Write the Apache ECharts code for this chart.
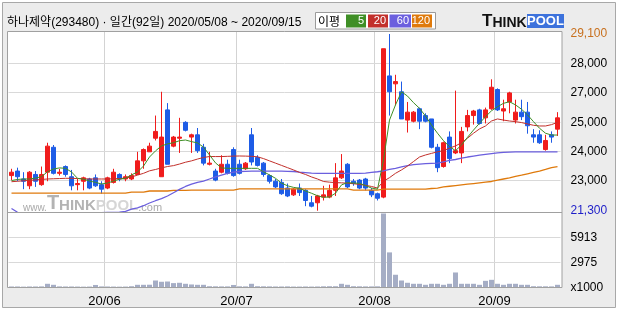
<!DOCTYPE html>
<html><head><meta charset="utf-8">
<script src="https://cdn.jsdelivr.net/npm/echarts@6/dist/echarts.min.js"></script>
<style>html,body{margin:0;padding:0;background:#fff}#c{width:620px;height:310px}</style>
</head><body><div id="c"></div>
<script>
const titleText = '하나제약(293480) · 일간(92일) 2020/05/08 ~ 2020/09/15';
const maLegendTitle = '이평';
const maLabels = ['5', '20', '60', '120'];

const dates = [
'2020/05/08','2020/05/11','2020/05/12','2020/05/13','2020/05/14','2020/05/15','2020/05/18','2020/05/19','2020/05/20','2020/05/21','2020/05/22','2020/05/25','2020/05/26','2020/05/27','2020/05/28','2020/05/29',
'2020/06/01','2020/06/02','2020/06/03','2020/06/04','2020/06/05','2020/06/08','2020/06/09','2020/06/10','2020/06/11','2020/06/12','2020/06/15','2020/06/16','2020/06/17','2020/06/18','2020/06/19','2020/06/22','2020/06/23','2020/06/24','2020/06/25','2020/06/26','2020/06/29','2020/06/30',
'2020/07/01','2020/07/02','2020/07/03','2020/07/06','2020/07/07','2020/07/08','2020/07/09','2020/07/10','2020/07/13','2020/07/14','2020/07/15','2020/07/16','2020/07/17','2020/07/20','2020/07/21','2020/07/22','2020/07/23','2020/07/24','2020/07/27','2020/07/28','2020/07/29','2020/07/30','2020/07/31',
'2020/08/03','2020/08/04','2020/08/05','2020/08/06','2020/08/07','2020/08/10','2020/08/11','2020/08/12','2020/08/13','2020/08/14','2020/08/18','2020/08/19','2020/08/20','2020/08/21','2020/08/24','2020/08/25','2020/08/26','2020/08/27','2020/08/28','2020/08/31',
'2020/09/01','2020/09/02','2020/09/03','2020/09/04','2020/09/07','2020/09/08','2020/09/09','2020/09/10','2020/09/11','2020/09/14','2020/09/15'];

const opens = [22850,23050,22700,22400,22900,22450,23000,24100,22950,23250, 22800,22450,22600,22700,22750,22450,22300,22550,22900,22700, 22700,22900,23500,23900,24500,22800,25750,24150,24500,25200, 24550,24650,24100,23350,23050,23000,23350,24000,23350,23150, 24650,23650,23400,22850,22600,22550,22300,22000,22300,22200, 21650,21650,21900,21900,22200,22750,23350,22600,22650,22700, 22200,22050,21900,27250,26900,26550,25300,25250,25800,25500, 25350,24100,23250,24550,23850,23850,25000,25500,25750,25400, 25800,26650,25700,26100,25300,25650,25650,24650,24650,24000, 24650,24900];
const closes = [23000,22800,22600,23000,22600,22900,24150,22950,23000,22900, 22400,22500,22750,22300,22400,22250,22750,23000,22700,22800, 22850,23500,24000,24150,24800,24550,23350,24550,24550,24850, 24650,23950,23400,23400,22650,23350,22950,22850,22950,23400, 23450,23300,22900,22600,22350,22050,21950,22250,22100,21750, 21500,21950,22000,22200,22750,23050,22350,22500,22300,22300, 22000,21850,28450,26550,27000,25350,25650,25650,25250,25250, 24100,23200,24300,23600,23950,24800,25500,25700,25150,25750, 26750,25750,25800,26500,25650,25450,25050,24550,24300,24400, 24550,25400];
const lows = [22650,22600,22250,22250,22350,22400,22600,22900,22850,22800, 22200,22200,22200,22250,22350,22050,22250,22500,22600,22600, 22650,22900,23150,23900,24400,22800,23350,24100,23850,24800, 23850,23850,23300,23300,22600,22950,22900,22800,22900,23100, 23300,23250,22800,22500,22300,22000,21900,21950,21950,21500, 21450,21300,21750,21850,21950,22700,22300,22400,22250,22200, 21900,21750,21850,25500,25950,25350,24750,25200,24900,25200, 24050,23000,23200,23400,23800,23400,24800,25100,25100,25150, 25750,25700,25250,25600,25150,25300,24700,24300,24250,23950, 24300,24600];
const highs = [23150,23200,23000,23050,23050,23250,24300,24200,23150,23300, 23100,22700,22800,22750,22900,22600,22800,23150,22950,22900, 22950,23900,24050,24300,25500,26550,26050,24600,25400,25250, 24700,24950,24250,23900,23150,23750,23550,24100,23550,23450, 24950,23750,23450,22900,22700,22700,22500,22300,22500,22250, 21950,22000,22400,22450,23400,23800,23400,22700,22700,22750, 22300,22100,28450,29100,27300,27000,26100,25700,25850,25600, 25350,24250,24350,24800,26600,25000,25750,25750,25800,25850, 27100,26700,26200,26550,26200,26200,26100,24900,24850,24650, 24800,25650];

const ma5 = [22630,22680,22700,22700,22740,22800,23020,23140,23190,23170, 23010,22730,22690,22610,22550,22480,22520,22610,22690,22730, 22880,23010,23270,23670,23940,24160,24250,24300,24390,24420, 24350,24290,24110,23760,23410,23190,23170,23170,23170,23170, 23170,23170,23020,22880,22730,22520,22400,22330,22290,22170, 22070,21960,21890,21910,22070,22440,22540,22520,22510,22410, 22300,22250,23540,25300,25970,26550,26360,26070,25820,25480, 25080,24720,24390,24130,23950,24200,24540,24860,25160,25450, 25710,25890,26040,26110,25970,25780,25530,25230,24940,24720, 24640,24640];
const ma20 = [22580,22600,22620,22640,22660,22680,22700,22710,22720,22730, 22730,22720,22710,22700,22700,22700,22700,22710,22720,22740, 22790,22870,22950,23060,23120,23190,23250,23290,23360,23440, 23500,23580,23650,23690,23690,23690,23700,23710,23715,23710, 23700,23680,23600,23500,23400,23300,23200,23100,22990,22900, 22790,22700,22590,22560,22540,22530,22515,22490,22460,22420, 22370,22300,22600,22760,22950,23100,23270,23470,23670,23760, 23830,23900,23950,24060,24160,24300,24500,24720,24910,25040, 25260,25350,25300,25260,25230,25190,25130,25070,25040,25040, 25100,25200];
const ma60 = [21400,21230,21200,21180,21160,21150,21150,21150,21160,21170, 21180,21190,21200,21200,21200,21210,21220,21230,21240,21270, 21370,21430,21520,21640,21740,21830,21950,22095,22240,22370, 22470,22550,22610,22700,22790,22870,22950,23000,23030,23040, 23050,23050,23050,23050,23050,23050,23040,23030,23000,22980, 22960,22950,22950,22950,22950,22950,22950,22950,22950,22960, 22990,23020,23060,23120,23170,23230,23290,23330,23360,23375, 23390,23400,23460,23520,23560,23620,23670,23710,23750,23790, 23820,23850,23875,23890,23900,23900,23900,23900,23900,23900, 23900,23900];
const ma120 = [22080,22080,22080,22080,22080,22080,22080,22080,22080,22080, 22080,22080,22080,22080,22080,22080,22080,22080,22080,22080, 22120,22120,22120,22170,22170,22170,22170,22200,22200,22200, 22210,22210,22210,22210,22210,22210,22210,22210,22260,22260, 22260,22260,22260,22260,22260,22260,22260,22260,22260,22260, 22260,22260,22260,22260,22260,22260,22260,22210,22210,22210, 22210,22210,22250,22250,22250,22250,22250,22250,22250,22250, 22280,22300,22350,22380,22410,22440,22470,22500,22530,22560, 22590,22650,22700,22750,22820,22870,22930,22990,23050,23120, 23200,23250];

const volumes = [120,120,100,120,120,130,440,320,130,120, 120,110,100,110,300,130,120,110,100,110, 150,320,320,330,830,680,710,520,560,440, 360,320,320,150,140,130,130,300,140,130, 440,150,140,130,120,120,130,110,110,120, 110,120,140,150,150,440,320,150,140,130, 130,140,8770,4160,1510,830,560,440,440,320, 440,440,320,440,1780,440,440,440,320,790, 910,440,320,440,440,320,320,150,140,140, 130,320];

const priceTicks = [27800, 26520, 25195, 23915, 22635];
const priceTickLabels = ['28,000', '27,000', '25,000', '24,000', '23,000'];
const priceHigh = 29100;
const priceLow = 21300;
const volTicks = [2975, 5913];
const volTickLabels = ['2975', '5913'];
const volUnitLabel = 'x1000';
const monthStarts = ['2020/06/01', '2020/07/01', '2020/08/03', '2020/09/01'];
const monthLabels = ['20/06', '20/07', '20/08', '20/09'];

const FONT = '"Liberation Sans", "Noto Sans CJK KR", sans-serif';
const C_UP = '#f01c1c', C_DOWN = '#1e5ce6';
const maColors = ['#3f8f26', '#c2302b', '#6b5fde', '#df7a0c'];
const fmt = v => v.toLocaleString('en-US');
const HIDDEN_LINE = {color: 'rgba(255,255,255,0)', width: 1, type: 'solid'};

const candleData = dates.map((d, i) => [opens[i], closes[i], lows[i], highs[i]]);

const chart = echarts.init(document.getElementById('c'), null, {renderer: 'canvas', width: 620, height: 310});

const splitV = {show: true, showMaxLine: false, interval: (i, v) => monthStarts.includes(v), lineStyle: {color: '#d3d3d3', width: 1}};

const legendBoxes = [{x: 346, w: 20}, {x: 368, w: 20}, {x: 389.5, w: 21.5}, {x: 412, w: 20}];
const graphics = [
  {type: 'rect', z: -10, silent: true, shape: {x: 2.5, y: 2.5, width: 613, height: 305}, style: {fill: '#ececec', stroke: '#a8a8a8', lineWidth: 1}},
  {type: 'rect', z: -9, silent: true, shape: {x: 7.5, y: 31.5, width: 554.5, height: 256}, style: {fill: '#ffffff'}},
  {type: 'text', z: 1, silent: true, x: 23, y: 203, style: {
    text: '{w|www.}{t|T}{k|HINK}{p|POOL}{c|.com}', verticalAlign: 'middle',
    rich: {
      w: {font: '10px "Liberation Sans"', fill: '#a9a9a9', verticalAlign: 'bottom'},
      t: {font: 'bold 20px "Liberation Sans"', fill: '#b3b3b3', verticalAlign: 'bottom'},
      k: {font: 'bold 15px "Liberation Sans"', fill: '#b3b3b3', verticalAlign: 'bottom'},
      p: {font: 'bold 15px "Liberation Sans"', fill: '#d6d6d6', verticalAlign: 'bottom'},
      c: {font: '11px "Liberation Sans"', fill: '#a9a9a9', verticalAlign: 'bottom'}
    }}},
  {type: 'rect', z: 20, silent: true, shape: {x: 7.5, y: 31.5, width: 554.5, height: 256}, style: {fill: 'none', stroke: '#a0a0a0', lineWidth: 1}},
  {type: 'line', z: 20, silent: true, shape: {x1: 7.5, y1: 212.5, x2: 562, y2: 212.5}, style: {stroke: '#a0a0a0', lineWidth: 1}},
  {type: 'text', z: 20, silent: true, x: 7, y: 22.5, style: {text: titleText, font: '12px ' + FONT, fill: '#000', verticalAlign: 'middle'}},
  {type: 'rect', z: 20, silent: true, shape: {x: 315.5, y: 12.5, width: 120, height: 16.5}, style: {fill: '#ffffff', stroke: '#9a9a9a', lineWidth: 1}},
  {type: 'text', z: 21, silent: true, x: 318, y: 21, style: {text: maLegendTitle, font: '12px "Noto Sans CJK KR"', fill: '#000', verticalAlign: 'middle'}},
  {type: 'text', z: 21, silent: true, x: 482, y: 21.5, style: {
    text: '{t|T}{h|HINK}', verticalAlign: 'middle',
    rich: {t: {font: 'bold 17px "Liberation Sans"', fill: '#111', verticalAlign: 'bottom'}, h: {font: 'bold 14px "Liberation Sans"', fill: '#111', verticalAlign: 'bottom'}}}},
  {type: 'rect', z: 21, silent: true, shape: {x: 527, y: 14, width: 37, height: 14}, style: {fill: '#3d72dc'}},
  {type: 'text', z: 22, silent: true, x: 545.5, y: 21.3, style: {text: 'POOL', font: 'bold 13px "Liberation Sans"', fill: '#fff', align: 'center', verticalAlign: 'middle'}}
];
legendBoxes.forEach((b, i) => {
  graphics.push({type: 'rect', z: 21, silent: true, shape: {x: b.x, y: 14.5, width: b.w, height: 13}, style: {fill: maColors[i]}});
  graphics.push({type: 'text', z: 22, silent: true, x: b.x + b.w - 2, y: 21.3, style: {text: maLabels[i], font: '11px "Liberation Sans"', fill: '#fff', align: 'right', verticalAlign: 'middle'}});
});

const priceMarks = priceTicks.map((v, i) => ({yAxis: v, label: {formatter: priceTickLabels[i]}}));
priceMarks.push({yAxis: priceHigh, lineStyle: HIDDEN_LINE, label: {show: true, formatter: fmt(priceHigh), color: '#c8701e', padding: [7, 0, 0, 0]}});
priceMarks.push({yAxis: priceLow, lineStyle: HIDDEN_LINE, label: {show: true, formatter: fmt(priceLow), color: '#1e1ec8', padding: [0, 0, 6, 0]}});

const volMarks = volTicks.map((v, i) => ({yAxis: v, label: {formatter: volTickLabels[i]}}));
volMarks.push({yAxis: 0.001, lineStyle: HIDDEN_LINE, label: {show: true, formatter: volUnitLabel, padding: [0, 0, 2, 0]}});

const markBase = {
  silent: true, z: 1, symbol: ['none', 'none'], animation: false,
  lineStyle: {color: '#d9d9d9', width: 1, type: 'solid'},
  label: {show: true, position: 'end', distance: 10, color: '#000', fontSize: 12, fontFamily: FONT},
  emphasis: {disabled: true}
};

const option = {
  animation: false,
  backgroundColor: '#ffffff',
  graphic: {elements: graphics},
  grid: [
    {left: 8.5, top: 32, width: 552, height: 180, show: false},
    {left: 8.5, top: 212, width: 552, height: 75.5, show: false}
  ],
  xAxis: [
    {type: 'category', gridIndex: 0, data: dates, boundaryGap: true, axisLine: {show: false}, axisTick: {show: false}, axisLabel: {show: false}, splitLine: splitV},
    {type: 'category', gridIndex: 1, data: dates, boundaryGap: true, axisLine: {show: false}, axisTick: {show: false},
     axisLabel: {show: true, interval: (i, v) => monthStarts.includes(v), formatter: v => monthLabels[monthStarts.indexOf(v)],
       color: '#000', fontSize: 13, fontFamily: FONT, margin: 7, padding: [0, 6, 0, 0]},
     splitLine: splitV}
  ],
  yAxis: [
    {type: 'value', gridIndex: 0, min: 21243, max: 29188, show: false},
    {type: 'value', gridIndex: 1, min: 0, max: 8947, show: false}
  ],
  series: [
    {type: 'candlestick', xAxisIndex: 0, yAxisIndex: 0, data: candleData, barWidth: 5,
     itemStyle: {color: C_UP, color0: C_DOWN, borderColor: C_UP, borderColor0: C_DOWN, borderWidth: 1},
     markLine: Object.assign({}, markBase, {data: priceMarks})},
    {type: 'line', xAxisIndex: 0, yAxisIndex: 0, data: ma120, symbol: 'none', lineStyle: {color: maColors[3], width: 1.3}, z: 3},
    {type: 'line', xAxisIndex: 0, yAxisIndex: 0, data: ma60, symbol: 'none', lineStyle: {color: maColors[2], width: 1.3}, z: 3},
    {type: 'line', xAxisIndex: 0, yAxisIndex: 0, data: ma20, symbol: 'none', lineStyle: {color: maColors[1], width: 1}, z: 3},
    {type: 'line', xAxisIndex: 0, yAxisIndex: 0, data: ma5, symbol: 'none', lineStyle: {color: maColors[0], width: 1}, z: 3},
    {type: 'bar', xAxisIndex: 1, yAxisIndex: 1, data: volumes, barWidth: 5, itemStyle: {color: '#a5adc5'},
     markLine: Object.assign({}, markBase, {data: volMarks})}
  ]
};
chart.setOption(option);
</script></body></html>
